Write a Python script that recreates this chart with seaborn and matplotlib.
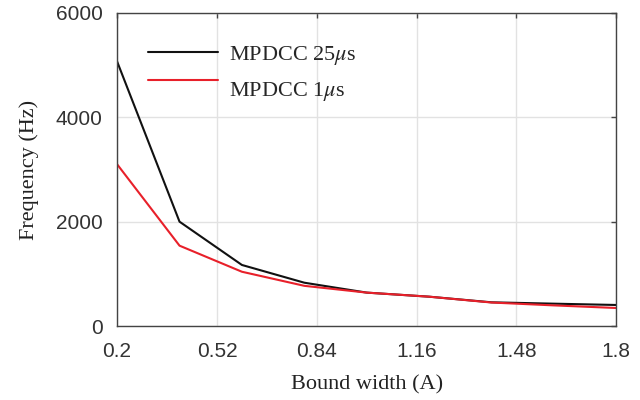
import matplotlib
matplotlib.use("Agg")
import matplotlib.pyplot as plt
import seaborn as sns
import pandas as pd

# Bound width (A) and switching frequency (Hz) for the two sampling periods
bound_width = [0.2, 0.4, 0.6, 0.8, 1.0, 1.2, 1.4, 1.6, 1.8]
freq_25us = [5070, 2000, 1170, 830, 640, 562, 454, 428, 403]
freq_1us = [3100, 1540, 1040, 770, 640, 562, 450, 395, 345]
series_names = ["MPDCC 25$\\mu$s", "MPDCC 1$\\mu$s"]
x_ticks = [0.2, 0.52, 0.84, 1.16, 1.48, 1.8]
x_tick_labels = ["0.2", "0.52", "0.84", "1.16", "1.48", "1.8"]
y_ticks = [0, 2000, 4000, 6000]

df = pd.concat([
    pd.DataFrame({"x": bound_width, "y": freq_25us, "series": series_names[0]}),
    pd.DataFrame({"x": bound_width, "y": freq_1us, "series": series_names[1]}),
])

sns.set_style("white")
plt.rcParams["mathtext.fontset"] = "stix"

fig = plt.figure(figsize=(6.4, 4.0), dpi=100)
ax = fig.add_axes([0.183, 0.185, 0.78, 0.7825])

sns.lineplot(data=df, x="x", y="y", hue="series",
             palette={series_names[0]: "#111111", series_names[1]: "#e8202a"},
             linewidth=1.5, ax=ax, legend=True)

ax.set_xlim(0.2, 1.8)
ax.set_ylim(0, 6000)
ax.set_xticks(x_ticks)
ax.set_xticklabels(x_tick_labels)
ax.set_yticks(y_ticks)
ax.grid(True, color="#e2e2e2", linewidth=1.0)
ax.set_axisbelow(True)

for s in ax.spines.values():
    s.set_visible(True)
    s.set_color("#444444")
    s.set_linewidth(1.0)

ax.tick_params(axis="both", direction="in", length=3.5, width=1, color="#444444",
               labelsize=15, labelcolor="#333333", top=True, right=True)
ax.tick_params(axis="x", pad=11.5)
ax.tick_params(axis="y", pad=10.5)
for lbl in ax.get_xticklabels() + ax.get_yticklabels():
    lbl.set_family("Liberation Sans")

ax.set_xlabel("Bound width (A)", family="Liberation Serif", fontsize=16, color="#222222", labelpad=10)
ax.set_ylabel("Frequency (Hz)", family="Liberation Serif", fontsize=16, color="#222222", labelpad=12)

leg = ax.legend(loc="upper left", bbox_to_anchor=(0.021, 0.965), frameon=False,
                prop={"family": "Liberation Serif", "size": 16},
                handlelength=3.15, handletextpad=0.5, labelspacing=0.6)
handles = leg.get_lines()
for line in handles:
    line.set_linewidth(1.5)
# sit the second key line a little above its label's centre
y0 = handles[1].get_ydata()
handles[1].set_ydata([v + 5.8 for v in y0])

fig.savefig("out.png", dpi=100)
